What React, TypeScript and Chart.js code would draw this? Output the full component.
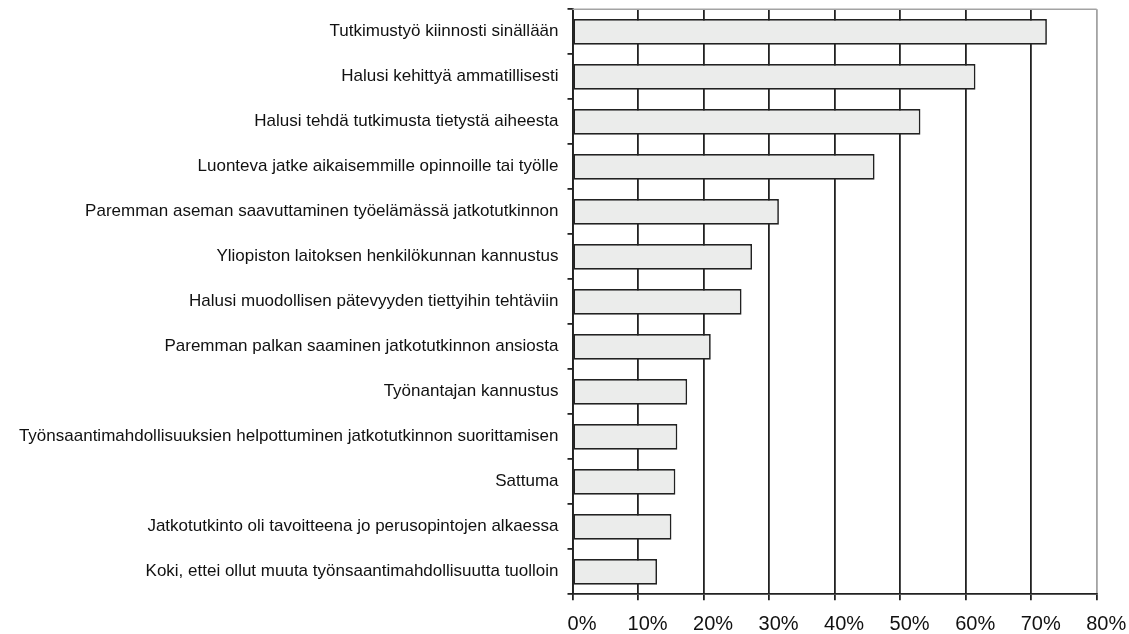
import React, { useEffect, useRef } from "react";
import { Chart, registerables } from "chart.js";

Chart.register(...registerables);

const categories: string[] = [
  "Tutkimustyö kiinnosti sinällään",
  "Halusi kehittyä ammatillisesti",
  "Halusi tehdä tutkimusta tietystä aiheesta",
  "Luonteva jatke aikaisemmille opinnoille tai työlle",
  "Paremman aseman saavuttaminen työelämässä jatkotutkinnon",
  "Yliopiston laitoksen henkilökunnan kannustus",
  "Halusi muodollisen pätevyyden tiettyihin tehtäviin",
  "Paremman palkan saaminen jatkotutkinnon ansiosta",
  "Työnantajan kannustus",
  "Työnsaantimahdollisuuksien helpottuminen jatkotutkinnon suorittamisen",
  "Sattuma",
  "Jatkotutkinto oli tavoitteena jo perusopintojen alkaessa",
  "Koki, ettei ollut muuta työnsaantimahdollisuutta tuolloin",
];

const values: number[] = [72.4, 61.5, 53.1, 46.1, 31.5, 27.4, 25.8, 21.1, 17.5, 16.0, 15.7, 15.1, 12.9];

const xMin = 0;
const xMax = 80;
const xStep = 10;

const FONT = "'Liberation Sans', Arial, Helvetica, sans-serif";

const topBorder = {
  id: "topBorder",
  afterDatasetsDraw(chart: any) {
    const { ctx, chartArea } = chart;
    ctx.save();
    ctx.strokeStyle = "#a3a3a3";
    ctx.lineWidth = 1.5;
    ctx.beginPath();
    ctx.moveTo(chartArea.left, chartArea.top);
    ctx.lineTo(chartArea.right, chartArea.top);
    ctx.stroke();
    ctx.restore();
  },
};

export default function App() {
  const ref = useRef<HTMLCanvasElement | null>(null);

  useEffect(() => {
    if (!ref.current) return;
    const chart = new Chart(ref.current, {
      type: "bar",
      data: {
        labels: categories,
        datasets: [
          {
            data: values,
            backgroundColor: "#ebeceb",
            borderColor: "#222222",
            borderWidth: 1.7,
            borderSkipped: false,
            barPercentage: 0.57,
            categoryPercentage: 1,
          },
        ],
      },
      options: {
        indexAxis: "y",
        responsive: false,
        animation: false,
        devicePixelRatio: 1,
        layout: { padding: { top: 9.3, right: 32.3, left: 0, bottom: 0 } },
        plugins: {
          legend: { display: false },
          tooltip: { enabled: false },
        },
        scales: {
          x: {
            type: "linear",
            min: xMin,
            max: xMax,
            ticks: {
              stepSize: xStep,
              callback: (v: any) => `${v}%`,
              color: "#111111",
              font: { family: FONT, size: 20 },
              padding: 12,
              labelOffset: 9.5,
              maxRotation: 0,
            },
            grid: {
              color: (c: any) => (c.tick && c.tick.value === xMax ? "#a3a3a3" : "#222222"),
              tickColor: "#222222",
              lineWidth: 1.8,
              tickLength: 6,
              drawOnChartArea: true,
            },
            border: { color: "#222222", width: 1.8 },
            afterFit: (scale: any) => {
              scale.height = 39.7;
              scale.paddingLeft = 0;
              scale.paddingRight = 0;
              scale.paddingTop = 0;
              scale.paddingBottom = 0;
            },
          },
          y: {
            type: "category",
            offset: true,
            ticks: {
              color: "#111111",
              font: { family: FONT, size: 17 },
              padding: 9,
              autoSkip: false,
            },
            grid: {
              offset: true,
              drawOnChartArea: false,
              color: "#222222",
              lineWidth: 1.8,
              tickLength: 5,
            },
            border: { color: "#222222", width: 1.8 },
            afterFit: (scale: any) => {
              scale.width = 572.5;
              scale.paddingLeft = 0;
              scale.paddingRight = 0;
              scale.paddingTop = 0;
              scale.paddingBottom = 0;
            },
          },
        },
      },
      plugins: [topBorder],
    });
    return () => chart.destroy();
  }, []);

  return (
    <div style={{ position: "absolute", left: 0, top: 0, width: 1129, height: 634, background: "#fff" }}>
      <canvas ref={ref} width={1129} height={634} style={{ display: "block" }} />
    </div>
  );
}
